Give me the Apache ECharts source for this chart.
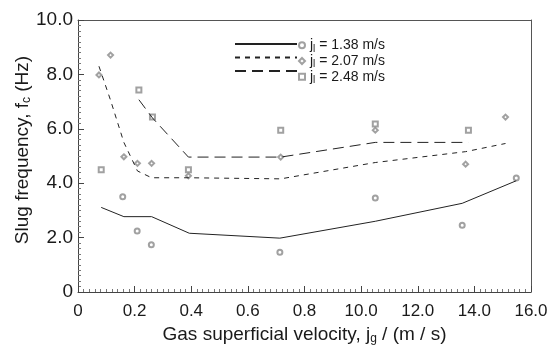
<!DOCTYPE html>
<html><head><meta charset="utf-8">
<script src="https://cdn.jsdelivr.net/npm/echarts@6/dist/echarts.min.js"></script>
<style>html,body{margin:0;padding:0;background:#fff}#c{width:556px;height:352px}</style>
</head><body><div id="c"></div><div id="err" style="position:absolute;left:90px;top:190px;width:440px;font:10px monospace;color:red;white-space:pre-wrap"></div>
<script>
window.onerror = function(m, s, l, c, e){ document.getElementById('err').textContent += 'ERR ' + m + ' ' + (e && e.stack ? e.stack.slice(0,300) : '') + '\n'; };
const _ce = console.error; console.error = function(){ document.getElementById('err').textContent += 'CE ' + Array.from(arguments).join(' ').slice(0,200) + '\n'; _ce.apply(console, arguments); };
const _cw = console.warn; console.warn = function(){ document.getElementById('err').textContent += 'CW ' + Array.from(arguments).join(' ').slice(0,200) + '\n'; _cw.apply(console, arguments); };
// tick labels as printed on the reference x axis
const xTickLabels = ['0','0.2','0.4','0.6','0.8','10.0','12.0','14.0','16.0'];
const yTickLabels = ['0','2.0','4.0','6.0','8.0','10.0'];

const pts138 = [[1.58,3.50],[2.09,2.24],[2.59,1.74],[7.13,1.46],[10.5,3.46],[13.57,2.45],[15.48,4.19]];
const pts207 = [[0.74,7.98],[1.15,8.71],[1.62,4.97],[2.10,4.73],[2.60,4.73],[3.90,4.27],[7.16,4.96],[10.5,5.95],[13.69,4.70],[15.10,6.43]];
const pts248 = [[0.82,4.49],[2.15,7.43],[2.63,6.43],[3.90,4.49],[7.16,5.95],[10.5,6.18],[13.79,5.95]];
const line138 = [[0.82,3.11],[1.62,2.77],[2.60,2.77],[3.93,2.16],[7.13,1.98],[10.5,2.60],[13.57,3.26],[15.48,4.09]];
const line207 = [[0.74,8.30],[1.15,7.05],[1.62,5.50],[2.10,4.45],[2.60,4.20],[3.90,4.20],[7.16,4.16],[10.5,4.76],[13.69,5.16],[15.10,5.46]];
const line248 = [[2.15,7.07],[2.63,6.40],[3.90,4.96],[7.16,4.96],[10.5,5.50],[13.79,5.50]];

const names = ['j{s|l} = 1.38 m/s','j{s|l} = 2.07 m/s','j{s|l} = 2.48 m/s'];
const FONT = '"Liberation Sans", Arial, sans-serif';
const ink = '#1a1a1a';
const symColor = '#8a8a8a';

const chart = echarts.init(document.getElementById('c'), null, {renderer:'canvas'});
const lineSeries = (nm, data, type) => ({
  name: nm, type: 'line', data: data, symbol: 'none', silent: true,
  itemStyle: {color: '#222', opacity: 0},
  lineStyle: {color: '#222', width: 1, type: type}, animation: false
});
const scat = (nm, data, sym) => ({
  name: nm, type: 'scatter', data: data, symbol: sym, symbolSize: 5,
  itemStyle: {color: symColor, borderColor: symColor, borderWidth: 0.9}, animation: false
});
const subRich = {s: {fontSize: 10, fontFamily: FONT, color: ink, padding: [7,0,0,0]}};
const frameAxis = (pos) => ({
  type: 'value', position: pos, min: 0, max: pos === 'top' ? 16 : 10,
  axisLine: {show: true, onZero: false, lineStyle: {color: '#555', width: 1}},
  axisTick: {show: false}, axisLabel: {show: false}, splitLine: {show: false}
});
try {
chart.setOption({
  animation: false,
  grid: {left: 78, right: 25, top: 20, bottom: 60, show: false},
  legend: [{
    data: ['L1','L2','L3'], orient: 'vertical', left: 229, top: 34,
    itemWidth: 62, itemHeight: 10, itemGap: 4.5, formatter: () => '', selectedMode: false,
    itemStyle: {opacity: 0},
    textStyle: {fontSize: 1}
  },{
    data: names, orient: 'vertical', left: 293, top: 33,
    itemWidth: 6, itemHeight: 6, itemGap: 0, selectedMode: false,
    textStyle: {fontSize: 14, fontFamily: FONT, color: ink, lineHeight: 14.5, rich: subRich}
  }],
  xAxis: [{
    type: 'value', min: 0, max: 16, interval: 2,
    name: 'Gas superficial velocity, j{s|g} / (m / s)', nameLocation: 'middle', nameGap: 32, nameMoveOverlap: false,
    nameTextStyle: {fontSize: 19, fontFamily: FONT, color: ink, rich: {s: {fontSize: 12, fontFamily: FONT, color: ink, padding: [9,0,0,0]}}},
    axisLine: {show: true, onZero: false, lineStyle: {color: '#444', width: 1}},
    axisTick: {show: true, inside: true, length: 6, lineStyle: {color: '#444', width: 1}},
    minorTick: {show: true, splitNumber: 10, length: 3, lineStyle: {color: '#777', width: 1}},
    splitLine: {show: false},
    axisLabel: {fontSize: 17, fontFamily: FONT, color: ink, margin: 11,
      formatter: v => xTickLabels[Math.round(v/2)]}
  }, frameAxis('top')],
  yAxis: [{
    type: 'value', min: 0, max: 10, interval: 2,
    name: 'Slug frequency, f{s|c} (Hz)', nameLocation: 'middle', nameGap: 45, nameMoveOverlap: false,
    nameTextStyle: {fontSize: 19, fontFamily: FONT, color: ink, padding: [0,0,0,12], rich: {s: {fontSize: 12, fontFamily: FONT, color: ink, padding: [9,0,0,0]}}},
    axisLine: {show: true, onZero: false, lineStyle: {color: '#444', width: 1}},
    axisTick: {show: true, inside: true, length: 6, lineStyle: {color: '#444', width: 1}},
    minorTick: {show: true, splitNumber: 10, length: 3, lineStyle: {color: '#777', width: 1}},
    splitLine: {show: false},
    axisLabel: {fontSize: 19, fontFamily: FONT, color: ink, margin: 5,
      formatter: v => yTickLabels[Math.round(v/2)]}
  }, frameAxis('right')],
  series: [
    lineSeries('L1', line138, 'solid'),
    lineSeries('L2', line207, [5,5]),
    lineSeries('L3', line248, [11,6]),
    scat(names[0], pts138, 'emptyCircle'),
    scat(names[1], pts207, 'emptyDiamond'),
    scat(names[2], pts248, 'emptyRect')
  ]
});
} catch (e) { document.getElementById('err').textContent += 'CATCH ' + e.message + ' ' + (e.stack||'').slice(0,400); }
</script></body></html>
